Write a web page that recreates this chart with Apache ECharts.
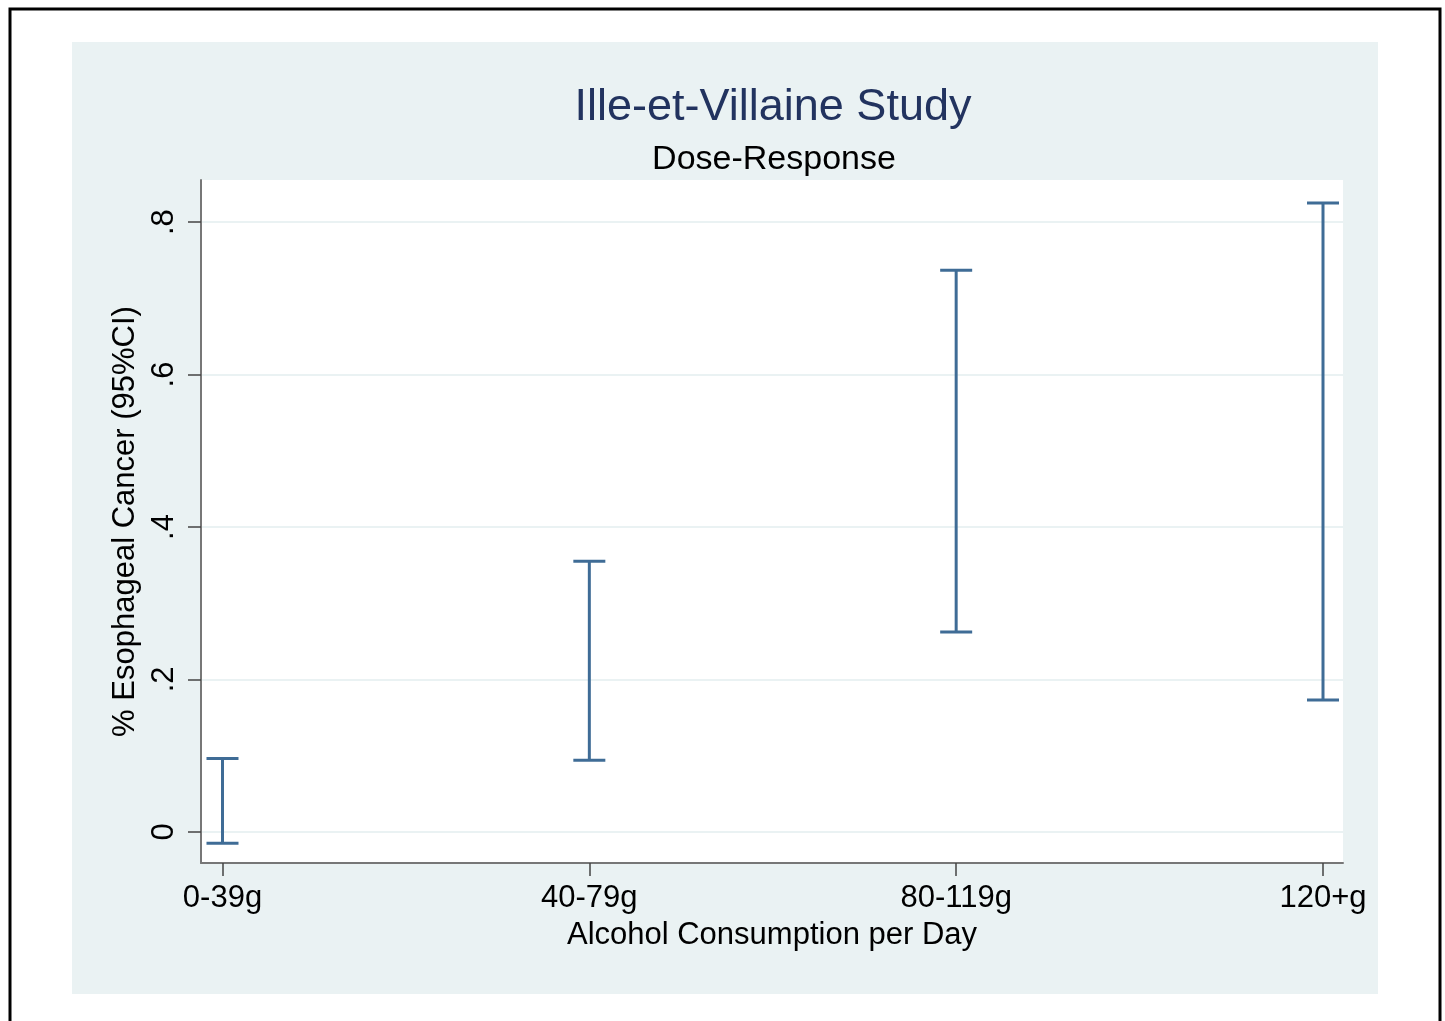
<!DOCTYPE html>
<html><head><meta charset="utf-8">
<script src="https://cdn.jsdelivr.net/npm/echarts@6/dist/echarts.min.js"></script>
<style>html,body{margin:0;padding:0;background:#fff}#c{width:1445px;height:1021px}</style>
</head><body><div id="c"></div>
<script>
const categories = ['0-39g', '40-79g', '80-119g', '120+g'];
const xPositions = [1, 2, 3, 4];
const lowerCI = [-0.015, 0.094, 0.262, 0.173];
const upperCI = [0.096, 0.355, 0.737, 0.825];
const yTickValues = [0, 0.2, 0.4, 0.6, 0.8];
const yTickLabels = ['0', '.2', '.4', '.6', '.8'];

const FONT = '"Liberation Sans", Arial, Helvetica, sans-serif';
const BAR = '#3f6c96';

const data = xPositions.map((x, i) => [x, lowerCI[i], upperCI[i]]);

const chart = echarts.init(document.getElementById('c'), null, {renderer: 'canvas'});
chart.setOption({
  backgroundColor: '#ffffff',
  animation: false,
  graphic: [
    {type: 'rect', z: -10, silent: true, shape: {x: 72, y: 42, width: 1306, height: 952}, style: {fill: '#eaf2f3'}},
    {type: 'rect', z: -10, silent: true, shape: {x: 10, y: 9, width: 1430, height: 1100}, style: {fill: 'none', stroke: '#000', lineWidth: 3}}
  ],
  title: [
    {text: 'Ille-et-Villaine Study', left: 768, textAlign: 'center', top: 80, textStyle: {fontFamily: FONT, fontSize: 45, fontWeight: 'normal', color: '#22335f'}},
    {text: 'Dose-Response', left: 769, textAlign: 'center', top: 138, textStyle: {fontFamily: FONT, fontSize: 34, fontWeight: 'normal', color: '#000'}}
  ],
  grid: {left: 201, top: 180, right: 102, bottom: 158, show: true, backgroundColor: '#ffffff', borderWidth: 0, containLabel: false},
  xAxis: {
    type: 'value', min: 0.9414, max: 4.0545,
    name: 'Alcohol Consumption per Day', nameLocation: 'middle', nameGap: 57,
    nameTextStyle: {fontFamily: FONT, fontSize: 31, color: '#000'},
    axisLine: {show: true, onZero: false, lineStyle: {color: '#777', width: 2}},
    axisTick: {show: true, customValues: xPositions, length: 13, lineStyle: {color: '#444', width: 1.5}},
    axisLabel: {customValues: xPositions, margin: 20, fontFamily: FONT, fontSize: 31, color: '#000',
      formatter: v => categories[xPositions.indexOf(Math.round(v))] || ''},
    splitLine: {show: false}
  },
  yAxis: {
    type: 'value', min: -0.041, max: 0.8553,
    name: '% Esophageal Cancer (95%CI)', nameLocation: 'middle', nameGap: 51, nameRotate: 90,
    nameTextStyle: {fontFamily: FONT, fontSize: 31, color: '#000'},
    axisLine: {show: true, onZero: false, lineStyle: {color: '#777', width: 2}},
    axisTick: {show: true, customValues: yTickValues, length: 13, lineStyle: {color: '#444', width: 1.5}},
    axisLabel: {customValues: yTickValues, rotate: 90, margin: 21, fontFamily: FONT, fontSize: 31, color: '#000',
      formatter: v => { const i = yTickValues.findIndex(t => Math.abs(t - v) < 1e-6); return i >= 0 ? yTickLabels[i] : ''; }},
    splitLine: {show: true, lineStyle: {color: '#eaf2f3', width: 2}}
  },
  series: [{
    type: 'custom',
    data: data,
    encode: {x: 0, y: [1, 2]},
    renderItem: function (params, api) {
      const x = api.value(0);
      const lo = api.coord([x, api.value(1)]);
      const hi = api.coord([x, api.value(2)]);
      const hw = 16;
      const style = {stroke: BAR, lineWidth: 3, fill: null};
      return {
        type: 'group',
        children: [
          {type: 'line', shape: {x1: lo[0], y1: lo[1], x2: hi[0], y2: hi[1]}, style: style},
          {type: 'line', shape: {x1: lo[0] - hw, y1: lo[1], x2: lo[0] + hw, y2: lo[1]}, style: style},
          {type: 'line', shape: {x1: hi[0] - hw, y1: hi[1], x2: hi[0] + hw, y2: hi[1]}, style: style}
        ]
      };
    }
  }]
});
</script></body></html>
